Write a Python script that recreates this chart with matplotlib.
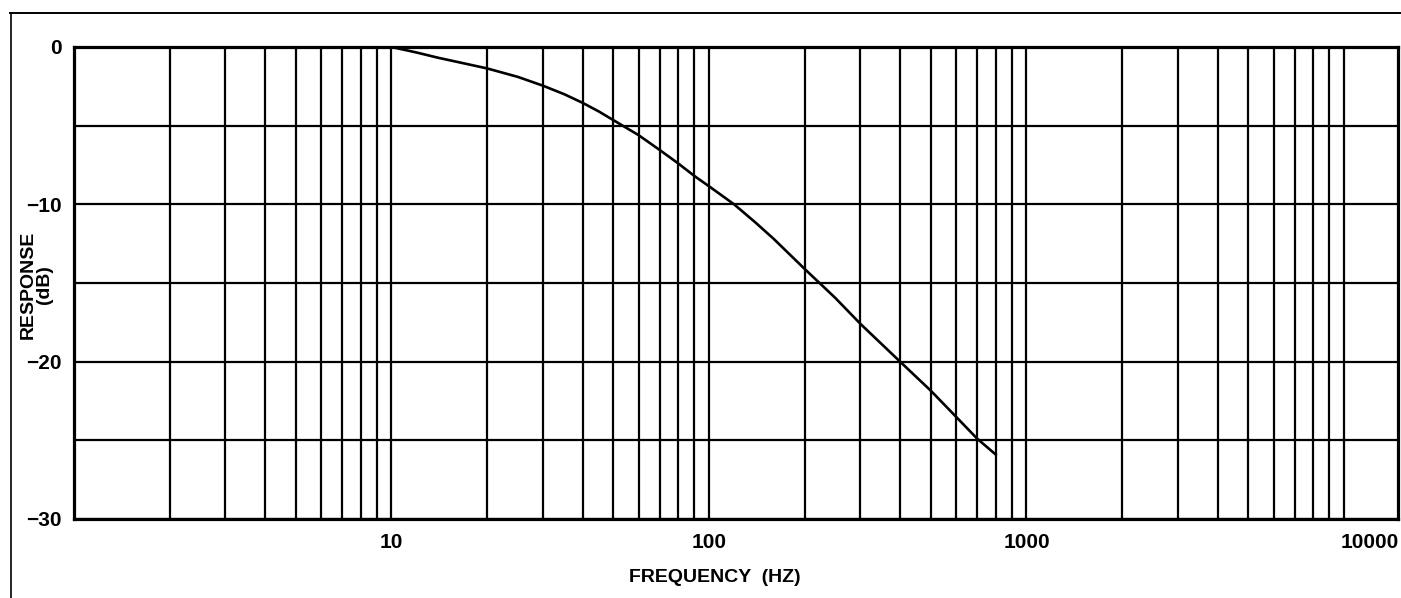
import matplotlib
matplotlib.use("Agg")
import matplotlib.pyplot as plt
import matplotlib.transforms as mtransforms
from matplotlib.lines import Line2D
from matplotlib.ticker import LogLocator, NullFormatter

# Measured low-frequency roll-off response
freq_hz = [10, 12, 14, 17, 20, 25, 30, 35, 40, 45, 50, 60, 70, 80, 90, 100,
           120, 140, 160, 200, 250, 300, 400, 500, 600, 700, 800]
response_db = [0, -0.35, -0.68, -1.05, -1.36, -1.9, -2.46, -3.0, -3.55, -4.1,
               -4.65, -5.6, -6.55, -7.4, -8.2, -8.85, -10.0, -11.15, -12.2,
               -14.1, -15.95, -17.6, -20.0, -21.85, -23.5, -24.9, -25.9]

x_ticks = [10, 100, 1000, 10000]
x_tick_labels = ["10", "100", "1000", "10000"]
y_ticks = [0, -10, -20, -30]
y_tick_labels = ["0", "\u221210", "\u221220", "\u221230"]
y_minor_ticks = [-5, -15, -25]

plt.rcParams['font.family'] = ['Liberation Sans', 'DejaVu Sans']
plt.rcParams['font.weight'] = 'bold'

W, H = 1401, 598
fig = plt.figure(figsize=(W / 100, H / 100), dpi=100)
ax = fig.add_axes([74 / W, 1 - 519 / H, 1324 / W, 472 / H])

ax.set_xscale('log')
ax.set_xlim(1, 14800)
ax.set_ylim(-30, 0)

ax.set_xticks(x_ticks, x_tick_labels)
ax.xaxis.set_minor_locator(LogLocator(base=10, subs=range(2, 10), numticks=50))
ax.xaxis.set_minor_formatter(NullFormatter())
ax.set_yticks(y_ticks, y_tick_labels)
ax.set_yticks(y_minor_ticks, minor=True)

ax.grid(which='both', color='black', linewidth=1.6)
ax.set_axisbelow(True)
for sp in ax.spines.values():
    sp.set_linewidth(2.3)
    sp.set_color('black')

ax.tick_params(which='both', length=0)
ax.tick_params(axis='x', pad=10, labelsize=15)
ax.tick_params(axis='y', pad=9, labelsize=15)

# the last decade label sits toward the right frame edge
last = ax.get_xticklabels()[-1]
last.set_transform(last.get_transform() +
                   mtransforms.ScaledTranslation(0.26, 0, fig.dpi_scale_trans))

ax.plot(freq_hz, response_db, color='black', linewidth=1.9, zorder=3,
        solid_joinstyle='round')

fig.text(715 / W, 1 - 577 / H, "FREQUENCY  (HZ)", ha='center', va='center',
         fontsize=14, fontweight='bold')
fig.text(36 / W, 1 - 285 / H, "RESPONSE\n(dB)", ha='center', va='center',
         rotation=90, fontsize=14, fontweight='bold', multialignment='center',
         linespacing=0.95)

# page border lines
fig.add_artist(Line2D([10 / W, 1.0], [1 - 13 / H, 1 - 13 / H],
                      transform=fig.transFigure, color='black', linewidth=1.4))
fig.add_artist(Line2D([11 / W, 11 / W], [1 - 13 / H, 0.0],
                      transform=fig.transFigure, color='black', linewidth=1.2))

fig.savefig("out.png", dpi=100, facecolor='white')
